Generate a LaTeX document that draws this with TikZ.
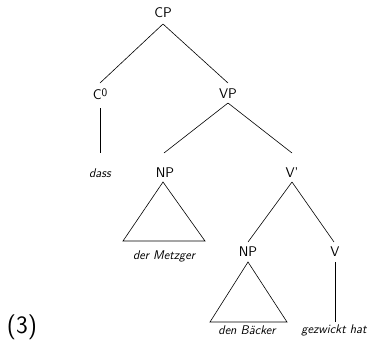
\documentclass[tikz,border=0pt]{standalone}
\begin{document}
\begin{tikzpicture}[x=1pt,y=-1pt,
  cat/.style={font=\fontsize{14}{16}\selectfont\sffamily, inner sep=0pt, anchor=center},
  word/.style={font=\fontsize{12.6}{14}\selectfont\sffamily\itshape, inner sep=0pt, anchor=center},
  br/.style={line width=0.6pt}]
\useasboundingbox (0,0) rectangle (375,349);
\node[cat] (cp) at (163,13) {CP};
\node[cat] (c0) at (100,94) {C\raisebox{0.55ex}{\fontsize{11.5}{12}\selectfont 0}};
\node[cat] (vp) at (228,94) {VP};
\node[word] (dass) at (100,173) {dass};
\node[cat] (np1) at (165,173) {NP};
\node[cat] (vbar) at (292,173) {V'};
\node[word] (metz) at (164,256) {der Metzger};
\node[cat] (np2) at (248,252) {NP};
\node[cat] (v) at (335,252) {V};
\node[word] (baeck) at (247,330) {den B\"acker};
\node[word] (gez) at (334,330) {gezwickt hat};
\node[font=\fontsize{25}{28}\selectfont\sffamily, inner sep=0pt] (ex) at (22,327) {(3)};
\coordinate (cpb) at (163,24);
\coordinate (c0t) at (100,83);
\coordinate (vpt) at (228,83);
\coordinate (c0b) at (100,108);
\coordinate (dasst) at (100,153);
\coordinate (vpb) at (228,103);
\coordinate (np1t) at (164,153);
\coordinate (vbart) at (292,153);
\coordinate (np1b) at (163,182);
\coordinate (vbarb) at (292,182);
\coordinate (np2t) at (248,242);
\coordinate (vt) at (334,242);
\coordinate (np2b) at (248,262);
\coordinate (vb) at (335,262);
\coordinate (gezt) at (335,322);
\draw[br] (cpb) -- (c0t);
\draw[br] (cpb) -- (vpt);
\draw[br] (c0b) -- (dasst);
\draw[br] (vpb) -- (np1t);
\draw[br] (vpb) -- (vbart);
\draw[br] (np1b) -- (123,241) -- (205,241) -- cycle;
\draw[br] (vbarb) -- (np2t);
\draw[br] (vbarb) -- (vt);
\draw[br] (np2b) -- (210,322) -- (287,322) -- cycle;
\draw[br] (vb) -- (gezt);
\end{tikzpicture}
\end{document}
